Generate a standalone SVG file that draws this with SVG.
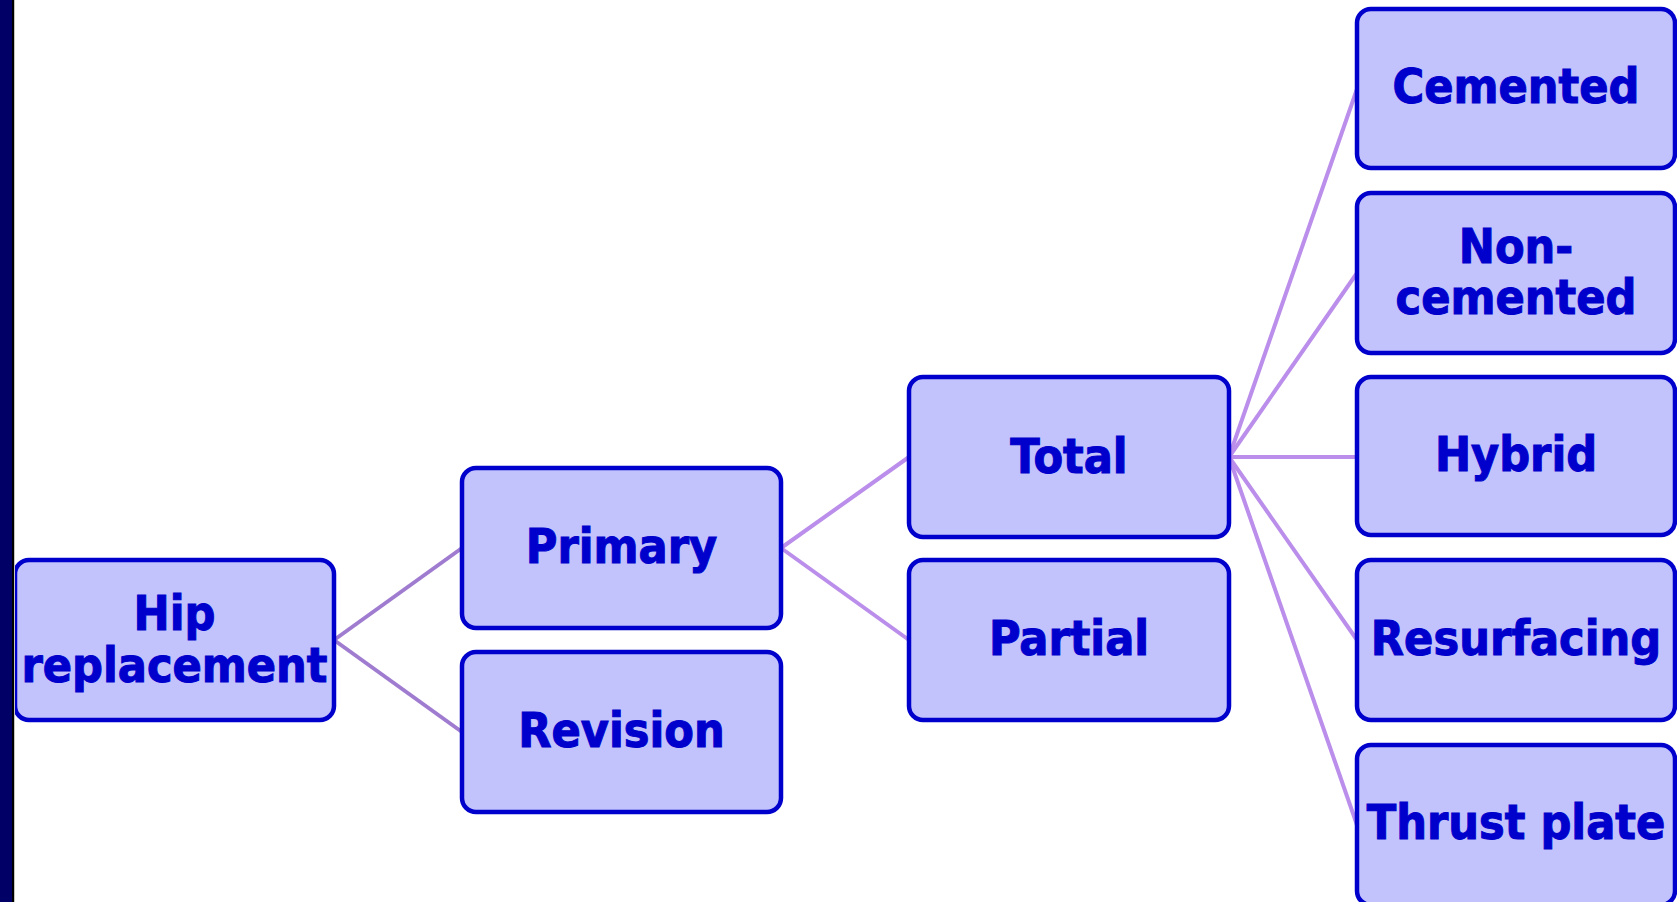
<svg xmlns="http://www.w3.org/2000/svg" width="1677" height="902" viewBox="0 0 1677 902">
<style>
.box{fill:#C2C2FC;stroke:#0000CC;stroke-width:4.5}
.lbl{font-family:"DejaVu Sans Condensed","DejaVu Sans",sans-serif;font-weight:bold;font-size:48px;fill:#0000CC;stroke:#0000CC;stroke-width:1;text-anchor:middle}
.c1{stroke:#A07CD0;stroke-width:4;fill:none}
.c2{stroke:#BA8EEA;stroke-width:4;fill:none}
</style>
<rect x="0" y="0" width="1677" height="902" fill="#FFFFFF"/>
<g id="connectors">
<line class="c1" x1="334" y1="640" x2="462" y2="548"/>
<line class="c1" x1="334" y1="640" x2="462" y2="732"/>
<line class="c2" x1="781" y1="548" x2="909" y2="457"/>
<line class="c2" x1="781" y1="548" x2="909" y2="640"/>
<line class="c2" x1="1229" y1="457" x2="1357" y2="89"/>
<line class="c2" x1="1229" y1="457" x2="1357" y2="273"/>
<line class="c2" x1="1229" y1="457" x2="1357" y2="457"/>
<line class="c2" x1="1229" y1="457" x2="1357" y2="640"/>
<line class="c2" x1="1229" y1="457" x2="1357" y2="825"/>
</g>
<g id="hip">
<rect class="box" x="15" y="560" width="319" height="160" rx="14"/>
<text class="lbl" x="174.5" y="630">Hip</text>
<text class="lbl" x="174.5" y="682">replacement</text>
</g>
<g id="primary">
<rect class="box" x="462" y="468" width="319" height="160" rx="14"/>
<text class="lbl" x="621.5" y="563">Primary</text>
</g>
<g id="revision">
<rect class="box" x="462" y="652" width="319" height="160" rx="14"/>
<text class="lbl" x="621.5" y="747">Revision</text>
</g>
<g id="total">
<rect class="box" x="909" y="377" width="320" height="160" rx="14"/>
<text class="lbl" x="1069" y="473">Total</text>
</g>
<g id="partial">
<rect class="box" x="909" y="560" width="320" height="160" rx="14"/>
<text class="lbl" x="1069" y="655">Partial</text>
</g>
<g id="cemented">
<rect class="box" x="1357" y="9" width="318" height="159" rx="14"/>
<text class="lbl" x="1516" y="103">Cemented</text>
</g>
<g id="noncemented">
<rect class="box" x="1357" y="193" width="318" height="160" rx="14"/>
<text class="lbl" x="1516" y="263">Non-</text>
<text class="lbl" x="1516" y="314">cemented</text>
</g>
<g id="hybrid">
<rect class="box" x="1357" y="377" width="318" height="158" rx="14"/>
<text class="lbl" x="1516" y="471">Hybrid</text>
</g>
<g id="resurfacing">
<rect class="box" x="1357" y="560" width="318" height="160" rx="14"/>
<text class="lbl" x="1516" y="655">Resurfacing</text>
</g>
<g id="thrustplate">
<rect class="box" x="1357" y="745" width="318" height="160" rx="14"/>
<text class="lbl" x="1516" y="839">Thrust plate</text>
</g>
<rect x="0" y="0" width="12" height="902" fill="#000066"/>
<rect x="12" y="0" width="2" height="902" fill="#000000"/>
<rect x="14" y="0" width="1" height="902" fill="#C8C8C0"/>
</svg>
